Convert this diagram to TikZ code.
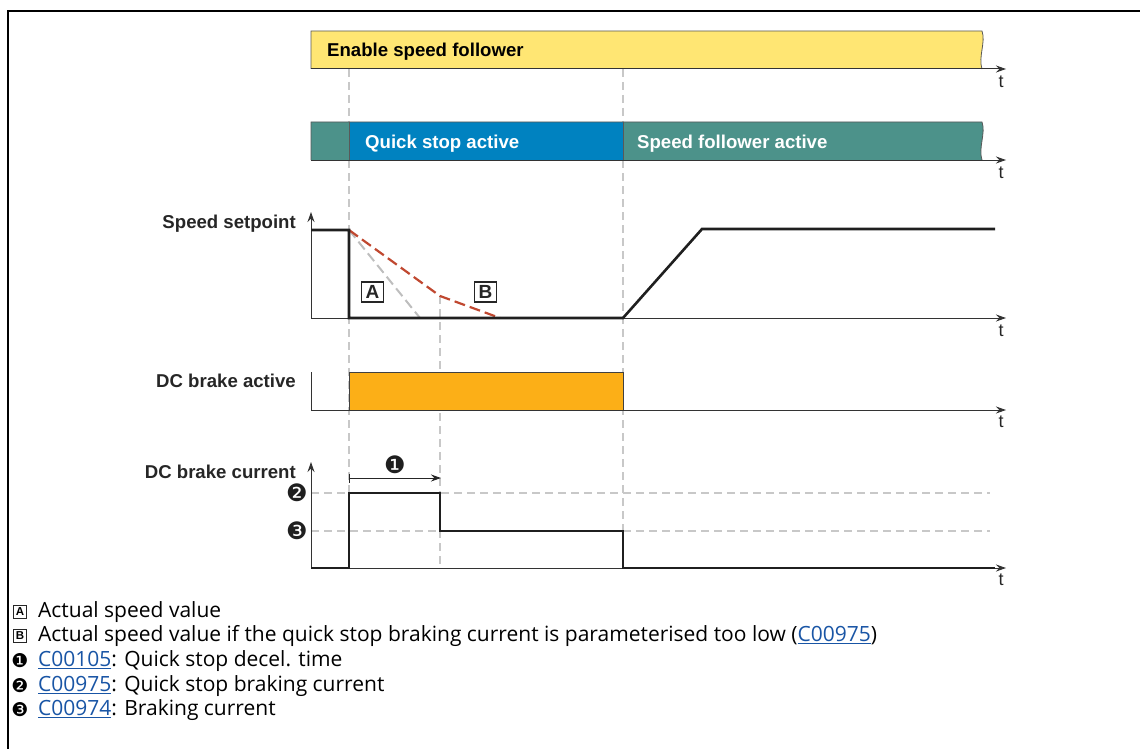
\documentclass[tikz,border=0pt]{standalone}
\usepackage{fontspec}
\setmainfont{Liberation Sans}
\newfontfamily\legendfont{Open Sans}
\newfontfamily\symfont{DejaVu Sans}
\usetikzlibrary{arrows.meta}
\definecolor{barYellow}{RGB}{255,230,115}
\definecolor{barTeal}{RGB}{76,146,138}
\definecolor{barBlue}{RGB}{0,130,192}
\definecolor{brakeOrange}{RGB}{252,175,23}
\definecolor{curveRed}{RGB}{192,72,48}
\definecolor{linkBlue}{RGB}{25,85,165}
\definecolor{guideGray}{RGB}{200,200,200}
\definecolor{dashGray}{RGB}{190,190,190}
\newcommand{\lnk}[1]{\textcolor{linkBlue}{\underline{#1}}}
\tikzset{
  axisline/.style={line width=1pt, draw=black!80, -{Stealth[length=10pt,width=7pt]}},
  thinline/.style={line width=1pt, draw=black!80},
  signal/.style={line width=2.6pt, draw=black!88, line join=miter},
  guide/.style={draw=guideGray, line width=1.2pt, dash pattern=on 8pt off 5pt},
  chartlabel/.style={font=\bfseries\fontsize{18.6}{20}\selectfont, anchor=base east, inner sep=0pt, text=black!85},
  tlabel/.style={font=\fontsize{18}{20}\selectfont, inner sep=0pt, text=black!85},
  barlabel/.style={font=\bfseries\fontsize{18.6}{20}\selectfont, anchor=base west, inner sep=0pt},
  legendtext/.style={font=\legendfont\fontsize{21}{24}\selectfont, anchor=west, inner sep=0pt},
  boxletter/.style={draw=black!85, line width=1.2pt, font=\bfseries\fontsize{19}{20}\selectfont, minimum width=22pt, minimum height=20pt, inner sep=0pt, text=black!85},
  smallbox/.style={draw=black!85, line width=0.9pt, font=\bfseries\fontsize{11.5}{12}\selectfont, minimum width=13pt, minimum height=13pt, inner sep=0pt},
  circnum/.style={font=\symfont\fontsize{24}{24}\selectfont, inner sep=0pt, text=black!88},
  smallcirc/.style={font=\symfont\fontsize{19}{20}\selectfont, inner sep=0pt},
  barframe/.style={draw=black!65, line width=0.8pt}
}
\begin{document}
\begin{tikzpicture}[x=1pt,y=-1pt]
\useasboundingbox (0,0) rectangle (1140,749);
% frame
\draw[line width=2.2pt] (8,749) -- (8,11) -- (1140,11);

% guide lines (vertical)
\draw[guide] (349,69) -- (349,568);
\draw[guide] (623,69) -- (623,568);
\draw[guide] (440,296) -- (440,568);
% guide lines (horizontal)
\draw[guide] (311,493) -- (990,493);
\draw[guide] (311,531) -- (990,531);

% --- Enable speed follower bar
\path[fill=barYellow] (311,69) -- (311,31) -- (982,31) .. controls (986,42) and (978,57) .. (982,69) -- cycle;
\draw[barframe] (311,69) -- (311,31) -- (982,31) .. controls (986,42) and (978,57) .. (982,69);
\node[barlabel] (enable) at (327,57) {Enable speed follower};
\draw[axisline] (311,69) -- (1006,69);
\node[tlabel] (t1) at (1001,82) {t};

% --- state bar
\path[fill=barTeal] (311,160) -- (311,122) -- (982,122) .. controls (986,133) and (978,148) .. (982,160) -- cycle;
\path[fill=barBlue] (349,122) rectangle (623,160);
\draw[barframe] (311,160) -- (311,122) -- (982,122) .. controls (986,133) and (978,148) .. (982,160);
\draw[barframe] (349,122) -- (349,160);
\draw[barframe] (623,122) -- (623,160);
\node[barlabel, text=white] (qsa) at (365,148) {Quick stop active};
\node[barlabel, text=white] (sfa) at (637,148) {Speed follower active};
\draw[axisline] (311,160) -- (1006,160);
\node[tlabel] (t2) at (1001,173) {t};

% --- Speed setpoint
\node[chartlabel] (spl) at (296,228) {Speed setpoint};
\draw[axisline] (311,318) -- (311,212);
\draw[axisline] (311,318) -- (1006,318);
\node[tlabel] (t3) at (1001,331) {t};
\draw[dashGray, line width=2pt, dash pattern=on 10pt off 5pt] (349,230) -- (420,318);
\draw[curveRed, line width=2.2pt, dash pattern=on 11pt off 5pt] (349,230) -- (440,296) -- (500,318);
\draw[signal] (311,230) -- (349,230) -- (349,318) -- (623,318) -- (702,229) -- (995,229);
\node[boxletter] (boxA) at (372.5,292) {A};
\node[boxletter] (boxB) at (485.5,292) {B};

% --- DC brake active
\node[chartlabel] (dcal) at (296,387) {DC brake active};
\draw[thinline] (311,372) -- (311,410);
\draw[fill=brakeOrange, draw=black!75, line width=1pt] (349,410) -- (349,372) -- (623,372) -- (623,410);
\draw[axisline] (311,410) -- (1006,410);
\node[tlabel] (t4) at (1001,422) {t};

% --- DC brake current
\node[chartlabel] (dccl) at (296,478) {DC brake current};
\draw[axisline] (311,568) -- (311,462);
\draw[axisline] (311,568) -- (1006,568);
\node[tlabel] (t5) at (1001,580) {t};
\draw[signal] (311,568) -- (349,568) -- (349,493) -- (440,493) -- (440,531) -- (623,531) -- (623,568) -- (995,568);
\node[circnum] (n1) at (395,465) {❶};
\node[circnum] (n2) at (297,493) {❷};
\node[circnum] (n3) at (297,531) {❸};
\coordinate (arrL) at (349,478);
\coordinate (arrR) at (441,478);
\draw[line width=1pt, black!85, {Bar[width=9pt]}-{Stealth[length=10pt,width=7pt]}] (arrL) -- (arrR);

% --- legend
\node[smallbox] (lA) at (20,612) {A};
\node[legendtext] (legA) at (38,612) {Actual speed value};
\node[smallbox] (lB) at (20,636) {B};
\node[legendtext] (legB) at (38,636) {Actual speed value if the quick stop braking current is parameterised too low (\lnk{C00975})};
\node[smallcirc] (l1) at (20,661) {❶};
\node[legendtext] (leg1) at (38,661) {\lnk{C00105}: Quick stop decel. time};
\node[smallcirc] (l2) at (20,686) {❷};
\node[legendtext] (leg2) at (38,686) {\lnk{C00975}: Quick stop braking current};
\node[smallcirc] (l3) at (20,710) {❸};
\node[legendtext] (leg3) at (38,710) {\lnk{C00974}: Braking current};
\end{tikzpicture}
\end{document}
